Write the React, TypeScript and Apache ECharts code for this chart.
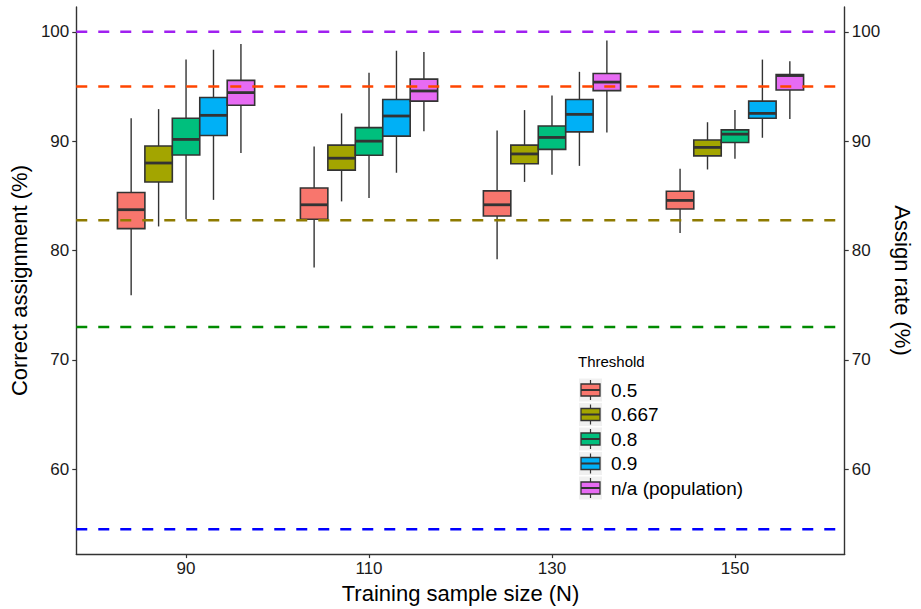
import React, { useEffect, useRef } from "react";
import * as echarts from "echarts";

// ---- data ----
const categories = ["90", "110", "130", "150"];
const thresholds = ["0.5", "0.667", "0.8", "0.9", "n/a (population)"];
// each entry: [low whisker, Q1, median, Q3, high whisker] per sample size
const t05 = [
  [75.9, 82.0, 83.73, 85.3, 92.1],
  [78.45, 82.86, 84.18, 85.72, 89.52],
  [79.2, 83.16, 84.18, 85.45, 90.97],
  [81.59, 83.79, 84.58, 85.42, 87.47],
];
const t0667 = [
  [82.2, 86.27, 88.0, 89.56, 92.93],
  [84.49, 87.35, 88.44, 89.64, 92.54],
  [86.27, 87.93, 88.83, 89.64, 92.84],
  [87.41, 88.65, 89.43, 90.1, 91.73],
];
const t08 = [
  [82.86, 88.74, 90.16, 92.09, 97.46],
  [84.79, 88.71, 90.0, 91.24, 96.25],
  [86.93, 89.25, 90.34, 91.39, 94.17],
  [88.38, 89.88, 90.64, 91.03, 92.84],
];
const t09 = [
  [84.63, 90.52, 92.36, 93.99, 98.36],
  [87.11, 90.46, 92.3, 93.81, 98.27],
  [87.74, 90.85, 92.45, 93.81, 96.34],
  [90.31, 92.09, 92.54, 93.66, 97.46],
];
const tpop = [
  [88.92, 93.29, 94.44, 95.56, 98.88],
  [90.91, 93.66, 94.59, 95.67, 98.15],
  [90.79, 94.62, 95.4, 96.19, 99.2],
  [92.03, 94.68, 96.0, 96.1, 97.3],
];
const seriesValues = [t05, t0667, t08, t09, tpop];
const boxColors = ["#F8766D", "#A3A500", "#00BF7D", "#00B0F6", "#E76BF3"];

const refLines = [100, 95, 82.77, 73.0, 54.5];
const refColors = ["#A020F0", "#FF4500", "#8E7A00", "#008B00", "#0000FF"];

const yTicks = [60, 70, 80, 90, 100];
const xTicks = [1, 2, 3, 4];

const FONT = "Liberation Sans, Arial, Helvetica, sans-serif";

export default function App() {
  const ref = useRef<HTMLDivElement>(null);

  useEffect(() => {
    if (!ref.current) return;
    document.body.style.margin = "0";
    const chart = echarts.init(ref.current, null, { renderer: "svg" });

    const dodge = 0.15;
    const boxSeries = seriesValues.map((vals, si) => ({
      type: "custom",
      name: thresholds[si],
      z: 2,
      data: vals.map((v, ci) => [ci + 1, ...v]),
      encode: { x: 0, y: [1, 2, 3, 4, 5] },
      renderItem: (params: any, api: any) => {
        const x = api.value(0) + (si - 2) * dodge;
        const low = api.coord([x, api.value(1)]);
        const q1 = api.coord([x, api.value(2)]);
        const med = api.coord([x, api.value(3)]);
        const q3 = api.coord([x, api.value(4)]);
        const high = api.coord([x, api.value(5)]);
        const hw = api.size([dodge, 0])[0] / 2;
        const cx = q1[0];
        return {
          type: "group",
          children: [
            {
              type: "line",
              shape: { x1: cx, y1: high[1], x2: cx, y2: q3[1] },
              style: { stroke: "#333333", lineWidth: 1.4 },
            },
            {
              type: "line",
              shape: { x1: cx, y1: q1[1], x2: cx, y2: low[1] },
              style: { stroke: "#333333", lineWidth: 1.4 },
            },
            {
              type: "rect",
              shape: { x: cx - hw, y: q3[1], width: 2 * hw, height: q1[1] - q3[1] },
              style: { fill: boxColors[si], stroke: "#333333", lineWidth: 1.6 },
            },
            {
              type: "line",
              shape: { x1: cx - hw, y1: med[1], x2: cx + hw, y2: med[1] },
              style: { stroke: "#333333", lineWidth: 2.8 },
            },
          ],
        };
      },
    }));

    const lineSeries = {
      type: "custom",
      name: "ref",
      z: 5,
      data: refLines.map((v, i) => [v, i]),
      encode: { y: 0 },
      renderItem: (params: any, api: any) => {
        const v = api.value(0);
        const i = api.value(1);
        const a = api.coord([0.4, v]);
        const b = api.coord([4.6, v]);
        return {
          type: "line",
          shape: { x1: a[0], y1: a[1], x2: b[0], y2: b[1] },
          style: { stroke: refColors[i], lineWidth: 2.6, lineDash: [11, 11] },
        };
      },
    };

    const legendTop = 363;
    const rowStart = 390;
    const rowGap = 24.5;
    const legendGraphics: any[] = [
      {
        type: "text",
        left: 578,
        top: legendTop - 9,
        style: { text: "Threshold", font: `15px ${FONT}`, fill: "#000000" },
      },
    ];
    thresholds.forEach((t, i) => {
      const cy = rowStart + i * rowGap;
      legendGraphics.push(
        {
          type: "rect",
          shape: { x: 579, y: cy - 11.5, width: 23, height: 23 },
          style: { fill: "#F0F0F0" },
        },
        {
          type: "line",
          shape: { x1: 590.5, y1: cy - 10, x2: 590.5, y2: cy + 10 },
          style: { stroke: "#333333", lineWidth: 1.2 },
        },
        {
          type: "rect",
          shape: { x: 581, y: cy - 6, width: 19, height: 12 },
          style: { fill: boxColors[i], stroke: "#333333", lineWidth: 1.3 },
        },
        {
          type: "line",
          shape: { x1: 581, y1: cy, x2: 600, y2: cy },
          style: { stroke: "#333333", lineWidth: 2 },
        },
        {
          type: "text",
          x: 611,
          y: cy,
          style: { text: t, font: `19px ${FONT}`, fill: "#000000", verticalAlign: "middle" },
        }
      );
    });

    const yAxisBase = (pos: "left" | "right", name: string) => ({
      type: "value",
      position: pos,
      min: 52.23,
      max: 102.27,
      name,
      nameLocation: "middle",
      nameRotate: pos === "left" ? 90 : -90,
      nameGap: pos === "left" ? 41 : 37,
      nameTextStyle: { fontSize: 22, fontFamily: FONT, color: "#000000" },
      axisLine: { show: true, lineStyle: { color: "#333333", width: 1.4 } },
      axisTick: { show: true, length: 4, customValues: yTicks, lineStyle: { color: "#333333", width: 1.2 } },
      axisLabel: {
        show: true,
        customValues: yTicks,
        margin: 7,
        fontSize: 17,
        fontFamily: FONT,
        color: "#1a1a1a",
        formatter: (v: number) => String(Math.round(v)),
      },
      splitLine: { show: false },
    });

    chart.setOption({
      animation: false,
      backgroundColor: "#ffffff",
      grid: { left: 73, right: 60, top: 7, bottom: 49, containLabel: false },
      xAxis: {
        type: "value",
        min: 0.4,
        max: 4.6,
        name: "Training sample size (N)",
        nameLocation: "middle",
        nameGap: 22,
        nameTextStyle: { fontSize: 22, fontFamily: FONT, color: "#000000", verticalAlign: "top" },
        axisLine: { show: true, onZero: false, lineStyle: { color: "#333333", width: 1.4 } },
        axisTick: { show: true, length: 4, customValues: xTicks, lineStyle: { color: "#333333", width: 1.2 } },
        axisLabel: {
          show: true,
          customValues: xTicks,
          margin: 6,
          fontSize: 17,
          fontFamily: FONT,
          color: "#1a1a1a",
          formatter: (v: number) => categories[Math.round(v) - 1] ?? "",
        },
        splitLine: { show: false },
      },
      yAxis: [yAxisBase("left", "Correct assignment (%)"), yAxisBase("right", "Assign rate (%)")],
      series: [...boxSeries, lineSeries],
      graphic: legendGraphics,
    });

    return () => chart.dispose();
  }, []);

  return <div ref={ref} style={{ width: 921, height: 609 }} />;
}
